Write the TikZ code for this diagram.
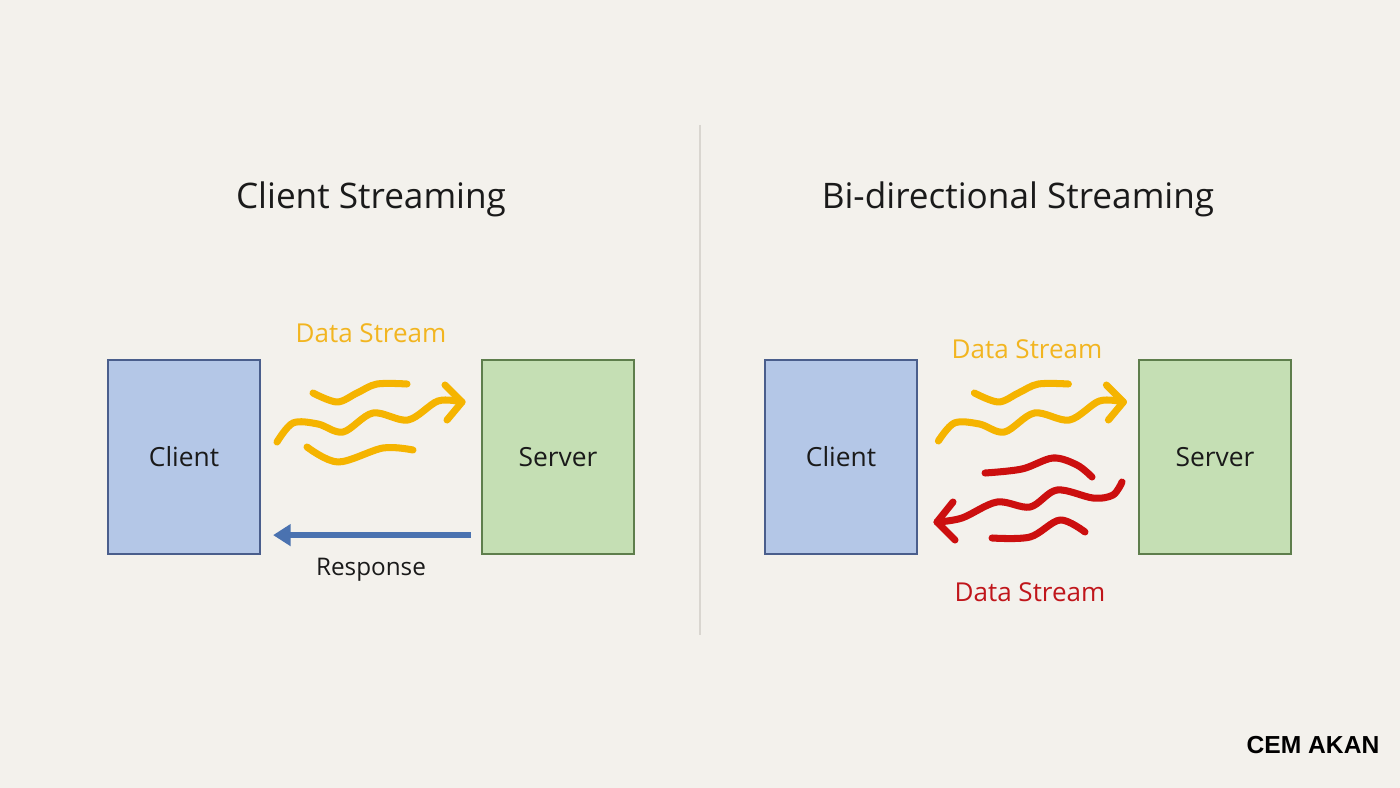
\documentclass[tikz,border=0pt]{standalone}
\usepackage{fontspec}
\setmainfont{Open Sans}
\newfontfamily\signfont{Liberation Sans}
\usetikzlibrary{arrows.meta,calc}
\definecolor{bg}{HTML}{F3F1EC}
\definecolor{bluefill}{HTML}{B4C7E7}
\definecolor{blueedge}{HTML}{4A5E8C}
\definecolor{greenfill}{HTML}{C5DFB4}
\definecolor{greenedge}{HTML}{5E7E4C}
\definecolor{yel}{HTML}{F5B400}
\definecolor{yeltext}{HTML}{F2B520}
\definecolor{redw}{HTML}{CC0F0F}
\definecolor{redtext}{HTML}{C0161B}
\definecolor{resp}{HTML}{4A72B0}
\definecolor{divider}{HTML}{D9D6D0}
\definecolor{ink}{HTML}{1A1A1A}
\begin{document}
\begin{tikzpicture}[x=0.01cm,y=-0.01cm,
  cbox/.style={draw=blueedge,fill=bluefill,line width=0.6pt,minimum width=1.52cm,minimum height=1.94cm,inner sep=0pt,font=\fontsize{7.5}{9}\selectfont,text=ink},
  sbox/.style={draw=greenedge,fill=greenfill,line width=0.6pt,minimum width=1.52cm,minimum height=1.94cm,inner sep=0pt,font=\fontsize{7.5}{9}\selectfont,text=ink},
  title/.style={font=\fontsize{10}{12}\selectfont,text=ink},
  lbl/.style={font=\fontsize{7.4}{9}\selectfont},
  ywave/.style={draw=yel,line width=2pt,line cap=round,line join=round},
  rwave/.style={draw=redw,line width=2pt,line cap=round,line join=round},
  respline/.style={draw=resp,line width=1.6pt,-{Triangle[length=5pt,width=6pt]}}]
\fill[bg] (0,0) rectangle (1400,788);
\useasboundingbox (0,0) rectangle (1400,788);
\draw[divider,line width=0.4pt] (700,125) -- (700,635);

% titles
\node[title] (t1) at (371,199) {Client Streaming};
\node[title] (t2) at (1018,199) {Bi-directional Streaming};

% boxes
\node[cbox] (cliL) at (184,457) {\raisebox{-0.6pt}{Client}};
\node[sbox] (srvL) at (558,457) {\raisebox{-0.6pt}{Server}};
\node[cbox] (cliR) at (841,457) {\raisebox{-0.6pt}{Client}};
\node[sbox] (srvR) at (1215,457) {\raisebox{-0.6pt}{Server}};

% labels
\node[lbl,text=yeltext] (ds1) at (371,333) {Data Stream};
\node[lbl,text=yeltext] (ds2) at (1027,349) {Data Stream};
\node[lbl,text=redtext] (ds3) at (1030,592) {Data Stream};
\node[font=\fontsize{6.9}{9}\selectfont,text=ink] (rsp) at (371,570) {Response};
\node[font=\signfont\bfseries\fontsize{7}{9}\selectfont,text=black] (sig) at (1313,745) {CEM AKAN};

% response arrow
\draw[respline] ([xshift=-0.1cm,yshift=0.2cm]srvL.south west) -- ([xshift=0.12cm,yshift=0.2cm]cliL.south east);

% left yellow waves
\draw[ywave] plot[smooth,tension=0.55] coordinates {(313,393) (337,402) (357,393) (377,384) (407,384)};
\draw[ywave] plot[smooth,tension=0.55] coordinates {(277,442) (293,423) (318,424) (343,432) (373,413) (408,420) (438,401) (462,402)};
\draw[ywave] (445,385) -- (462,402) -- (447,420);
\draw[ywave] plot[smooth,tension=0.55] coordinates {(307,447) (338,462) (383,448) (413,450)};

% right yellow waves
\begin{scope}[xshift=6.61cm]
\draw[ywave] plot[smooth,tension=0.55] coordinates {(313,393) (337,402) (357,393) (377,384) (407,384)};
\draw[ywave] plot[smooth,tension=0.55] coordinates {(277,441) (293,423) (318,424) (343,432) (373,413) (408,420) (438,401) (462,402)};
\draw[ywave] (445,385) -- (462,402) -- (447,420);
\end{scope}

% right red waves
\draw[rwave] plot[smooth,tension=0.55] coordinates {(985,473) (1022,469) (1053,458) (1077,465) (1092,477)};
\draw[rwave] plot[smooth,tension=0.55] coordinates {(937,522) (962,518) (997,502) (1030,507) (1057,490) (1093,498) (1113,495) (1122,482)};
\draw[rwave] (953,502) -- (937,522) -- (955,540);
\draw[rwave] plot[smooth,tension=0.55] coordinates {(992,538) (1030,537) (1060,520) (1085,532)};
\end{tikzpicture}
\end{document}
